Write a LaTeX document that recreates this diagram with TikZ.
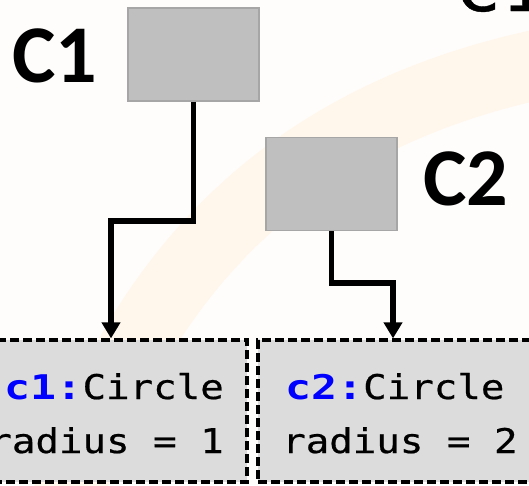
\documentclass[tikz,border=0pt]{standalone}
\usepackage{fontspec}
\usetikzlibrary{arrows.meta}
\setmainfont{Carlito}
\newfontfamily\codefont[FakeStretch=1.15,FakeBold=0.6]{DejaVu Sans Mono}
\newfontfamily\codeb[FakeStretch=1.27]{DejaVu Sans Mono}
\definecolor{boxgray}{HTML}{BFBFBF}
\definecolor{boxedge}{HTML}{A6A6A6}
\definecolor{objgray}{HTML}{DCDCDC}
\definecolor{swoosh}{HTML}{FFF7EC}
\definecolor{bgcol}{HTML}{FEFDFC}
\tikzset{
  classbox/.style={draw=boxedge, fill=boxgray, line width=1.5pt, minimum width=131pt, minimum height=93pt, inner sep=0pt},
  objbox/.style={draw=black, fill=objgray, line width=3.2pt, dash pattern=on 9pt off 4pt, minimum width=280pt, minimum height=142pt, inner sep=0pt},
  biglabel/.style={font=\fontsize{82}{82}\selectfont\bfseries, inner sep=0pt},
  codetext/.style={font=\codefont\fontsize{34}{34}\selectfont, inner sep=0pt},
  conn/.style={line width=5.5pt, -{Triangle[width=18pt,length=16pt]}},
}
\begin{document}
\begin{tikzpicture}[x=1pt,y=-1pt]
\useasboundingbox (0,0) rectangle (529,485);
\fill[bgcol] (0,0) rectangle (529,485);
% faint background swoosh
\draw[swoosh, line width=70pt, line cap=round] (60,520) .. controls (140,260) and (300,110) .. (560,60);
% partial title at top right
\node[inner sep=0pt, font=\codefont\fontsize{66}{66}\selectfont, anchor=base west] (ttl) at (455,11) {C1};
% class boxes
\node[classbox] (b1) at (193.5,54.5) {};
\node[classbox] (b2) at (331.5,184) {};
\node[biglabel] (l1) at (55,56) {C1};
\node[biglabel] (l2) at (466,179) {C2};
% object boxes
\node[objbox] (o1) at (107,411) {};
\node[objbox] (o2) at (398,411) {};
\node[codetext, anchor=base east] (t1a) at (224,399) {{\codeb\bfseries\color{blue}c1:}Circle};
\node[codetext, anchor=base east] (t1b) at (224,453) {radius = 1};
\node[codetext, anchor=base west] (t2a) at (285,399) {{\codeb\bfseries\color{blue}c2:}Circle};
\node[codetext, anchor=base west] (t2b) at (282,453) {radius = 2};
% connectors
\coordinate (k1) at (111,221);
\coordinate (k2) at (393,283);
\draw[conn] (b1.south) |- (k1) -- (k1 |- o1.north);
\draw[conn] (b2.south) |- (k2) -- (k2 |- o2.north);
\end{tikzpicture}
\end{document}
